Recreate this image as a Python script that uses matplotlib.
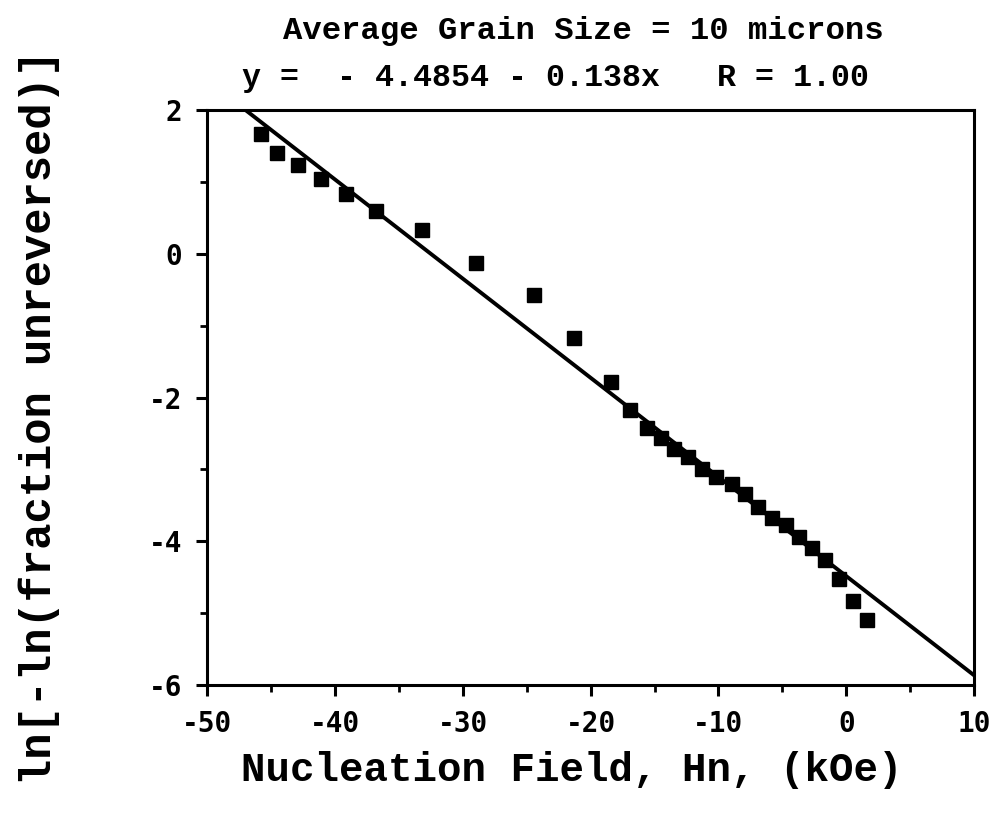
import matplotlib
matplotlib.use("Agg")
import matplotlib.pyplot as plt
import numpy as np
from matplotlib.ticker import MultipleLocator

plt.rcParams["axes.unicode_minus"] = False

# Data
field_koe = [-45.8, -44.5, -42.9, -41.1, -39.1, -36.8, -33.2, -29.0, -24.4,
             -21.3, -18.4, -16.9, -15.6, -14.5, -13.5, -12.4, -11.3, -10.2,
             -8.9, -7.9, -6.9, -5.8, -4.7, -3.7, -2.7, -1.7, -0.6, 0.5, 1.6]
ln_ln_frac = [1.66, 1.40, 1.24, 1.04, 0.83, 0.60, 0.33, -0.13, -0.57,
              -1.17, -1.78, -2.18, -2.42, -2.56, -2.71, -2.83, -2.99, -3.10,
              -3.20, -3.34, -3.52, -3.67, -3.78, -3.94, -4.09, -4.26, -4.52,
              -4.83, -5.09]
fit_intercept = -4.4854
fit_slope = -0.138
fit_range = [-50, 10]

title_line1 = "Average Grain Size = 10 microns"
title_line2 = "y =  - 4.4854 - 0.138x   R = 1.00"
xlabel = "Nucleation Field, Hn, (kOe)"
ylabel = "ln[-ln(fraction unreversed)]"

mono = "Liberation Mono"
tickfont = "DejaVu Sans Mono"

fig = plt.figure(figsize=(9.93, 8.19), dpi=100)
ax = fig.add_axes([0.2085, 0.1636, 0.7725, 0.7021])

xf = np.array(fit_range, dtype=float)
ax.plot(xf, fit_intercept + fit_slope * xf, color="black", lw=2.8, zorder=2)
ax.plot(field_koe, ln_ln_frac, linestyle="none", marker="s", markersize=10.5,
        color="black", zorder=3)

ax.set_xlim(-50, 10)
ax.set_ylim(-6, 2)
ax.xaxis.set_major_locator(MultipleLocator(10))
ax.xaxis.set_minor_locator(MultipleLocator(5))
ax.yaxis.set_major_locator(MultipleLocator(2))
ax.yaxis.set_minor_locator(MultipleLocator(1))
ax.tick_params(which="major", direction="out", length=8, width=2.2, pad=10)
ax.tick_params(which="minor", direction="out", length=5, width=2.0)
for sp in ax.spines.values():
    sp.set_linewidth(2.2)

for lab in ax.get_xticklabels() + ax.get_yticklabels():
    lab.set_fontfamily(tickfont)
    lab.set_fontweight("bold")
    lab.set_fontsize(20)

fig.text(0.587, 0.962, title_line1, ha="center", va="center",
         family=mono, weight="bold", fontsize=23.2)
fig.text(0.559, 0.905, title_line2, ha="center", va="center",
         family=mono, weight="bold", fontsize=22.8)
fig.text(0.576, 0.06, xlabel, ha="center", va="center",
         family=mono, weight="bold", fontsize=29.3)
fig.text(0.04, 0.49, ylabel, ha="center", va="center", rotation=90,
         family=mono, weight="bold", fontsize=31.5)

fig.savefig("out.png", dpi=100, facecolor="white")
